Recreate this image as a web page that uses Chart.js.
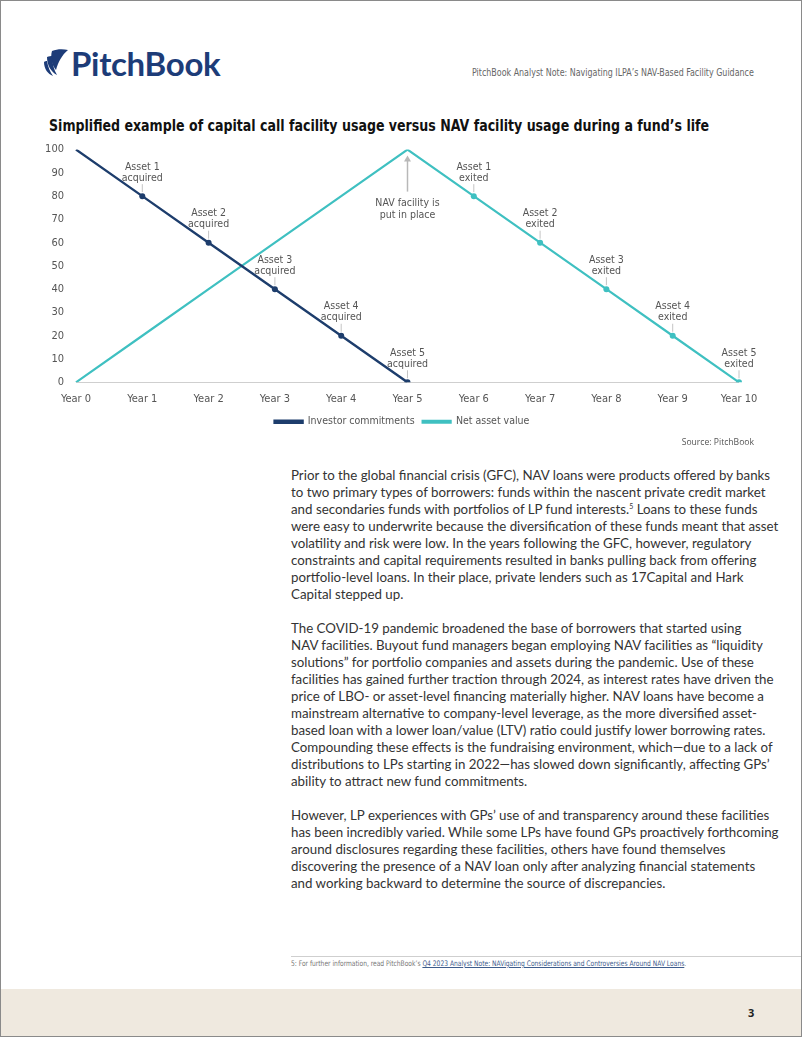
<!DOCTYPE html>
<html>
<head>
<meta charset="utf-8">
<script src="https://cdn.jsdelivr.net/npm/chart.js@4"></script>
<style>
  html, body { margin: 0; padding: 0; background: #fff; }
  .page { position: relative; width: 802px; height: 1037px; box-sizing: border-box; border: 1px solid #8a8a8a; overflow: hidden; }
  .narrow { font-family: "Liberation Sans Narrow", "DejaVu Sans Condensed", "Arial Narrow", sans-serif; }
  .logo { position: absolute; left: 42px; top: 42px; height: 40px; display: flex; align-items: center; }
  .logo span { font-family: Lato, "Open Sans", sans-serif; font-weight: 700; font-size: 33px; color: #1d3c78; letter-spacing: -0.3px; margin-left: 2px; }
  .head-note { position: absolute; right: 47px; top: 66px; font-size: 10px; color: #666; white-space: nowrap; transform: scaleX(0.884); transform-origin: right center; }
  .title { position: absolute; left: 48px; top: 115px; font-size: 16px; font-weight: bold; color: #111; white-space: nowrap; transform: scaleX(0.875); transform-origin: left center; }
  .chart-box { position: absolute; left: 0; top: 130px; width: 802px; height: 316px; }
  .source { position: absolute; right: 47px; top: 435px; font-family: "Open Sans", sans-serif; font-size: 8.6px; color: #555; }
  .body { position: absolute; left: 290px; top: 466px; font-family: Lato, "Open Sans", sans-serif; font-size: 13.3px; line-height: 17px; color: #333; white-space: nowrap; }
  .body p { margin: 0 0 17px 0; }
  .body sup { font-size: 7px; line-height: 0; vertical-align: 5px; }
  .rule { position: absolute; left: 290px; right: 0; top: 955px; border-top: 1px solid #cfcfcf; }
  .foot { position: absolute; left: 290px; top: 958px; font-size: 7.6px; color: #777; white-space: nowrap; transform: scaleX(0.875); transform-origin: left center; }
  .foot a { color: #3d5c8c; text-decoration: underline; }
  .band { position: absolute; left: 0; right: 0; top: 988px; bottom: 0; background: #efe9df; }
  .pnum { position: absolute; left: 747px; top: 1004px; font-family: "Open Sans", sans-serif; font-weight: 700; font-size: 11px; color: #222; }
</style>
</head>
<body>
<div class="page">
  <div class="logo">
    <svg width="26" height="30" viewBox="0 0 26 30">
      <path d="M9 3 C 14 1, 20 1, 25 2 C 19 7, 15 14, 13 22 C 9 17, 7 10, 9 3 Z" fill="#1d3c78"/>
      <path d="M4 9 C 6 8, 8 8, 9 8 C 9 15, 11 22, 14 27 C 8 24, 4 17, 4 9 Z" fill="#1d3c78"/>
      <path d="M1 14 C 2 13, 3 13, 4 13 C 5 19, 7 24, 10 28 C 5 26, 1 21, 1 14 Z" fill="#1d3c78"/>
    </svg>
    <span>PitchBook</span>
  </div>
  <div class="head-note narrow">PitchBook Analyst Note: Navigating ILPA’s NAV-Based Facility Guidance</div>
  <div class="title narrow">Simplified example of capital call facility usage versus NAV facility usage during a fund’s life</div>

  <div class="chart-box"><canvas id="myChart"></canvas></div>
  <div class="source">Source: PitchBook</div>

  <div class="body">
    <p>Prior to the global financial crisis (GFC), NAV loans were products offered by banks<br>
    to two primary types of borrowers: funds within the nascent private credit market<br>
    and secondaries funds with portfolios of LP fund interests.<sup>5</sup> Loans to these funds<br>
    were easy to underwrite because the diversification of these funds meant that asset<br>
    volatility and risk were low. In the years following the GFC, however, regulatory<br>
    constraints and capital requirements resulted in banks pulling back from offering<br>
    portfolio-level loans. In their place, private lenders such as 17Capital and Hark<br>
    Capital stepped up.</p>
    <p>The COVID-19 pandemic broadened the base of borrowers that started using<br>
    NAV facilities. Buyout fund managers began employing NAV facilities as “liquidity<br>
    solutions” for portfolio companies and assets during the pandemic. Use of these<br>
    facilities has gained further traction through 2024, as interest rates have driven the<br>
    price of LBO- or asset-level financing materially higher. NAV loans have become a<br>
    mainstream alternative to company-level leverage, as the more diversified asset-<br>
    based loan with a lower loan/value (LTV) ratio could justify lower borrowing rates.<br>
    Compounding these effects is the fundraising environment, which—due to a lack of<br>
    distributions to LPs starting in 2022—has slowed down significantly, affecting GPs’<br>
    ability to attract new fund commitments.</p>
    <p>However, LP experiences with GPs’ use of and transparency around these facilities<br>
    has been incredibly varied. While some LPs have found GPs proactively forthcoming<br>
    around disclosures regarding these facilities, others have found themselves<br>
    discovering the presence of a NAV loan only after analyzing financial statements<br>
    and working backward to determine the source of discrepancies.</p>
  </div>

  <div class="rule"></div>
  <div class="foot narrow">5: For further information, read PitchBook’s <a>Q4 2023 Analyst Note: NAVigating Considerations and Controversies Around NAV Loans</a>.</div>
  <div class="band"></div>
  <div class="pnum">3</div>
</div>

<script>
//data
const categories = ['Year 0', 'Year 1', 'Year 2', 'Year 3', 'Year 4', 'Year 5',
                    'Year 6', 'Year 7', 'Year 8', 'Year 9', 'Year 10'];
const investorCommitments = [100, 80, 60, 40, 20, 0, null, null, null, null, null];
const netAssetValue = [0, 20, 40, 60, 80, 100, 80, 60, 40, 20, 0];
const yTicks = [0, 10, 20, 30, 40, 50, 60, 70, 80, 90, 100];

// point notes, one per category (null = no note)
const acquiredNotes = [null, ['Asset 1', 'acquired'], ['Asset 2', 'acquired'], ['Asset 3', 'acquired'],
                       ['Asset 4', 'acquired'], ['Asset 5', 'acquired'], null, null, null, null, null];
const exitedNotes = [null, null, null, null, null, null, ['Asset 1', 'exited'], ['Asset 2', 'exited'],
                     ['Asset 3', 'exited'], ['Asset 4', 'exited'], ['Asset 5', 'exited']];
const facilityYear = 'Year 5';
const facilityNote = ['NAV facility is', 'put in place'];

const NAVY = '#1d3d6c';
const TEAL = '#3fc0c1';
const narrow = '"Liberation Sans Narrow", "DejaVu Sans Condensed", "Arial Narrow", sans-serif';

//labels + arrow
const notesPlugin = {
    id: 'notes',
    afterDatasetsDraw(chart) {
        const ctx = chart.ctx;
        ctx.save();
        ctx.font = '10.5px ' + narrow;
        ctx.fillStyle = '#555';
        ctx.textAlign = 'center';
        ctx.textBaseline = 'middle';
        ctx.strokeStyle = '#c4c4c4';
        ctx.lineWidth = 1;
        [acquiredNotes, exitedNotes].forEach((notes, di) => {
            const meta = chart.getDatasetMeta(di);
            notes.forEach((lines, i) => {
                if (!lines) return;
                const pt = meta.data[i];
                ctx.beginPath();
                ctx.moveTo(pt.x, pt.y - 4);
                ctx.lineTo(pt.x, pt.y - 12);
                ctx.stroke();
                ctx.fillText(lines[0], pt.x, pt.y - 29);
                ctx.fillText(lines[1], pt.x, pt.y - 18);
            });
        });

        // NAV facility arrow under the peak
        const idx = categories.indexOf(facilityYear);
        const x = chart.scales.x.getPixelForValue(idx);
        const y = chart.scales.y.getPixelForValue(netAssetValue[idx]);
        ctx.strokeStyle = '#b8b8b8';
        ctx.fillStyle = '#b8b8b8';
        ctx.lineWidth = 1.5;
        ctx.beginPath();
        ctx.moveTo(x, y + 10);
        ctx.lineTo(x, y + 42);
        ctx.stroke();
        ctx.beginPath();
        ctx.moveTo(x, y + 6);
        ctx.lineTo(x - 3.5, y + 12);
        ctx.lineTo(x + 3.5, y + 12);
        ctx.closePath();
        ctx.fill();
        ctx.fillStyle = '#555';
        ctx.fillText(facilityNote[0], x, y + 54);
        ctx.fillText(facilityNote[1], x, y + 66);
        ctx.restore();
    }
};

// center the legend on the whole page width and pull it a bit closer to the axis
const legendNudge = {
    id: 'legendNudge',
    afterLayout(chart) {
        const lg = chart.legend;
        const dx = chart.width / 2 - (lg.left + lg.right) / 2;
        lg.left += dx;
        lg.right += dx;
        lg.top -= 7;
        lg.bottom -= 7;
    }
};

const ctx = document.getElementById('myChart').getContext('2d');

const myChart = new Chart(ctx, {
    type: 'line',
    data: {
        labels: categories,
        datasets: [{
            label: 'Investor commitments',
            data: investorCommitments,
            borderColor: NAVY,
            backgroundColor: NAVY,
            borderWidth: 2.4,
            pointRadius: (c) => acquiredNotes[c.dataIndex] ? 3 : 0,
            pointBorderWidth: 0,
            pointBackgroundColor: NAVY
        }, {
            label: 'Net asset value',
            data: netAssetValue,
            borderColor: TEAL,
            backgroundColor: TEAL,
            borderWidth: 2.2,
            pointRadius: (c) => exitedNotes[c.dataIndex] ? 3 : 0,
            pointBorderWidth: 0,
            pointBackgroundColor: TEAL
        }]
    },
    options: {
        responsive: true,
        maintainAspectRatio: false,
        animation: false,
        layout: { padding: { top: 8, right: 64, bottom: 3, left: 0 } },
        scales: {
            x: {
                grid: { display: false, drawTicks: false },
                border: { display: false },
                ticks: { color: '#555', font: { family: narrow, size: 11 }, padding: 10, maxRotation: 0, autoSkip: false }
            },
            y: {
                min: 0,
                max: 100,
                afterFit: (s) => { s.width = 75; },
                afterBuildTicks: (s) => { s.ticks = yTicks.map(v => ({ value: v })); },
                border: { display: false },
                grid: {
                    drawTicks: false,
                    color: (c) => c.tick && c.tick.value === 0 ? '#cfcfcf' : 'rgba(0,0,0,0)'
                },
                ticks: { color: '#555', font: { family: narrow, size: 11 }, padding: 12 }
            }
        },
        plugins: {
            legend: {
                position: 'bottom',
                labels: {
                    boxWidth: 28,
                    boxHeight: 2,
                    padding: 8,
                    color: '#555',
                    font: { family: narrow, size: 10.5 }
                }
            },
            tooltip: { enabled: false }
        }
    },
    plugins: [notesPlugin, legendNudge]
});
</script>
</body>
</html>
